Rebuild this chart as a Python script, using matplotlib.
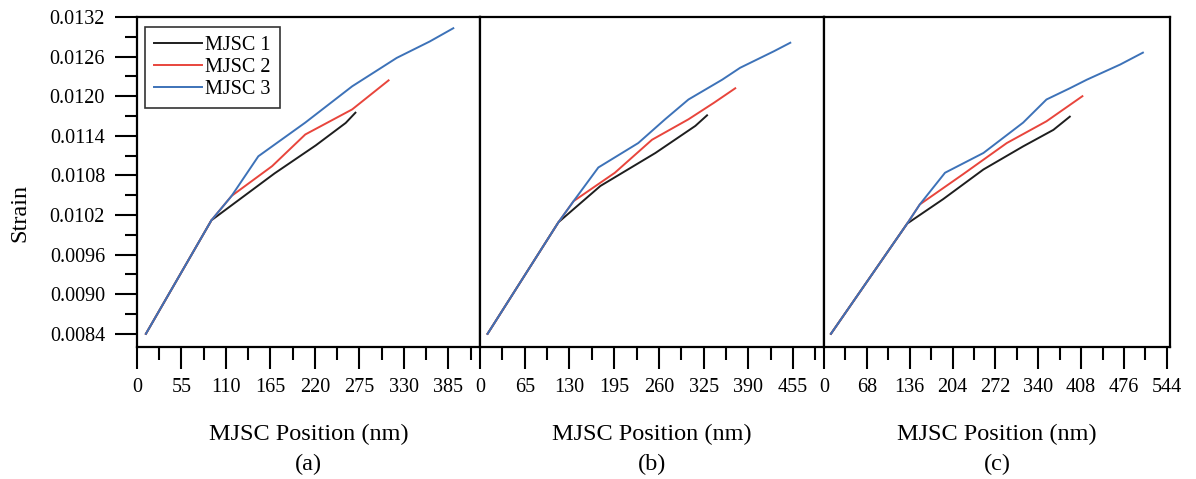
import matplotlib
matplotlib.use("Agg")
import matplotlib.pyplot as plt
from matplotlib.ticker import MultipleLocator, FormatStrFormatter

plt.rcParams['font.family'] = ['Liberation Serif', 'DejaVu Serif']

# ---------------- data ----------------
series_names = ["MJSC 1", "MJSC 2", "MJSC 3"]
series_colors = ["#1e1e1e", "#e8453c", "#3d72b8"]

# Panel (a)
a_x1 = [11, 92, 170, 221, 258, 270]
a_y1 = [0.0084, 0.01012, 0.01083, 0.011255, 0.011595, 0.01175]
a_x2 = [11, 92, 117, 167, 208, 266, 311]
a_y2 = [0.0084, 0.01012, 0.01049, 0.01094, 0.01142, 0.01180, 0.01224]
a_x3 = [11, 92, 117, 150, 208, 266, 298, 321, 362, 391]
a_y3 = [0.0084, 0.01012, 0.01049, 0.01109, 0.01160, 0.01215, 0.01240, 0.01258, 0.01283, 0.01303]

# Panel (b)
b_x1 = [11, 114, 175, 255, 313, 330]
b_y1 = [0.0084, 0.01009, 0.01064, 0.01114, 0.01155, 0.01171]
b_x2 = [11, 114, 136, 196, 250, 303, 340, 371]
b_y2 = [0.0084, 0.01009, 0.01041, 0.01084, 0.01134, 0.01165, 0.01190, 0.01212]
b_x3 = [11, 114, 136, 172, 230, 269, 303, 352, 378, 427, 451]
b_y3 = [0.0084, 0.01009, 0.01041, 0.01092, 0.01129, 0.01165, 0.01195, 0.01225, 0.01243, 0.01268, 0.01281]

# Panel (c)
c_x1 = [11, 132, 189, 253, 316, 364, 390]
c_y1 = [0.0084, 0.01007, 0.01044, 0.01089, 0.01124, 0.01149, 0.01169]
c_x2 = [11, 132, 152, 221, 290, 353, 410]
c_y2 = [0.0084, 0.01007, 0.01036, 0.01082, 0.01129, 0.01162, 0.01200]
c_x3 = [11, 132, 152, 192, 253, 316, 353, 390, 417, 470, 506]
c_y3 = [0.0084, 0.01007, 0.01036, 0.01084, 0.01114, 0.01160, 0.01195, 0.01212, 0.01225, 0.01248, 0.01266]

panel_letters = ["(a)", "(b)", "(c)"]
x_limits = [424, 500, 549]
x_steps = [55, 65, 68]
y_min, y_max, y_step = 0.0082, 0.0132, 0.0006
x_label = "MJSC Position (nm)"
y_label = "Strain"

panels = [
    [(a_x1, a_y1), (a_x2, a_y2), (a_x3, a_y3)],
    [(b_x1, b_y1), (b_x2, b_y2), (b_x3, b_y3)],
    [(c_x1, c_y1), (c_x2, c_y2), (c_x3, c_y3)],
]

# ---------------- figure ----------------
W, H = 1196, 479
fig = plt.figure(figsize=(W / 100, H / 100), dpi=100)
left, right = 137 / W, 1170 / W
top, bottom = 1 - 17 / H, 1 - 347 / H
gs = fig.add_gridspec(1, 3, left=left, right=right, top=top, bottom=bottom,
                      wspace=0, width_ratios=[343, 344, 346])

tick_fs = 14.5
axes = []
for i in range(3):
    ax = fig.add_subplot(gs[0, i])
    axes.append(ax)
    for (xs, ys), name, col in zip(panels[i], series_names, series_colors):
        ax.plot(xs, ys, color=col, lw=1.4, label=name, solid_joinstyle='round')
    ax.set_xlim(0, x_limits[i])
    ax.set_ylim(y_min, y_max)
    ax.xaxis.set_major_locator(MultipleLocator(x_steps[i]))
    ax.xaxis.set_minor_locator(MultipleLocator(x_steps[i] / 2))
    ax.yaxis.set_major_locator(MultipleLocator(y_step))
    ax.yaxis.set_minor_locator(MultipleLocator(y_step / 2))
    ax.yaxis.set_major_formatter(FormatStrFormatter('%.4f'))
    ax.tick_params(axis='both', which='major', direction='out', length=16, width=1.5,
                   labelsize=tick_fs, pad=6, color='black')
    ax.tick_params(axis='both', which='minor', direction='out', length=9, width=1.5,
                   color='black')
    ax.tick_params(axis='y', pad=7)
    if i > 0:
        ax.tick_params(axis='y', which='both', left=False, labelleft=False)
    for sp in ax.spines.values():
        sp.set_linewidth(1.6)
        sp.set_color('black')
    ax.set_xlabel(x_label, fontsize=17.5, labelpad=20)
    pos = ax.get_position()
    fig.text((pos.x0 + pos.x1) / 2, 1 - 464 / H, panel_letters[i],
             ha='center', va='center', fontsize=17.5)

fig.text(20 / W, 1 - 213 / H, y_label, rotation=90, ha='center', va='center',
         fontsize=17.5)

leg = axes[0].legend(loc='upper left', bbox_to_anchor=(8 / 343, 1 - 10 / 330),
                     borderaxespad=0, fontsize=tick_fs, frameon=True, fancybox=False,
                     edgecolor='black', handlelength=2.4, handletextpad=0.15,
                     labelspacing=0.15, borderpad=0.45, handleheight=0.6)
leg.get_frame().set_linewidth(1.2)

fig.savefig("out.png", dpi=100, facecolor='white')
